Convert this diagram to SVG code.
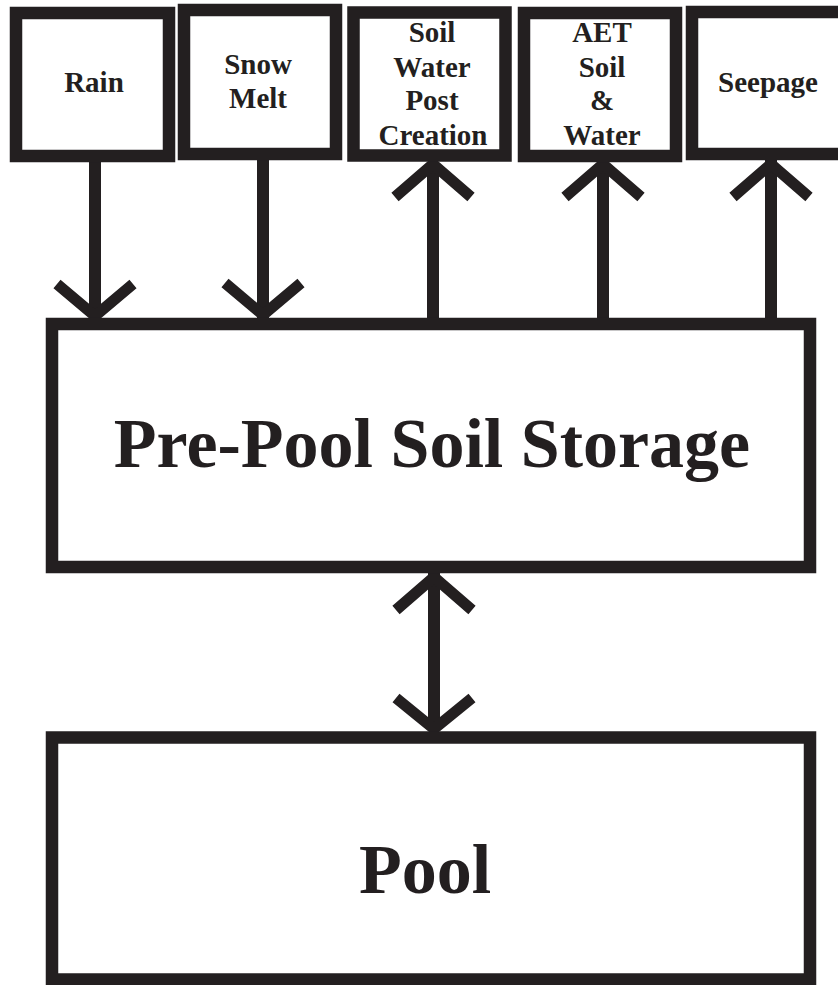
<svg xmlns="http://www.w3.org/2000/svg" width="838" height="985" viewBox="0 0 838 985">
<style>
.box{fill:#fff;stroke:#231f20;stroke-width:12.5}
.lbl{font-family:"Liberation Serif","DejaVu Serif",serif;font-weight:bold;fill:#231f20;text-anchor:middle}
.sm{font-size:29px}
.big{font-size:70px}
.ln{stroke:#231f20;stroke-width:12;fill:none}
.hd{stroke:#231f20;stroke-width:11;fill:none;stroke-linejoin:miter}
</style>
<rect width="838" height="985" fill="#fff"/>
<g id="connectors">
<line class="ln" x1="95" y1="162" x2="95" y2="318"/>
<polyline class="hd" points="57,284 95,316 133,284"/>
<line class="ln" x1="263" y1="160" x2="263" y2="318"/>
<polyline class="hd" points="225,283 263,315 301,283"/>
<line class="ln" x1="433" y1="318" x2="433" y2="162"/>
<polyline class="hd" points="395,197 433,164 471,197"/>
<line class="ln" x1="603" y1="318" x2="603" y2="162"/>
<polyline class="hd" points="565,197 603,164 641,197"/>
<line class="ln" x1="771" y1="318" x2="771" y2="160"/>
<polyline class="hd" points="733,197 771,164 809,197"/>
<line class="ln" x1="434" y1="573" x2="434" y2="731"/>
<polyline class="hd" points="396,610 434,577 472,610"/>
<polyline class="hd" points="396,698 434,729 472,698"/>
</g>
<g id="rain">
<rect class="box" x="16" y="13" width="153" height="143"/>
<text class="lbl sm" x="94" y="92">Rain</text>
</g>
<g id="snowmelt">
<rect class="box" x="184" y="10" width="152" height="144"/>
<text class="lbl sm" x="258" y="74">Snow</text>
<text class="lbl sm" x="258" y="108">Melt</text>
</g>
<g id="soilwater">
<rect class="box" x="353.5" y="12.5" width="152" height="143"/>
<text class="lbl sm" x="432" y="42">Soil</text>
<text class="lbl sm" x="432" y="77">Water</text>
<text class="lbl sm" x="432" y="110">Post</text>
<text class="lbl sm" x="433" y="145">Creation</text>
</g>
<g id="aet">
<rect class="box" x="524" y="13" width="152" height="143"/>
<text class="lbl sm" x="602" y="42">AET</text>
<text class="lbl sm" x="602" y="77">Soil</text>
<text class="lbl sm" x="602" y="110">&amp;</text>
<text class="lbl sm" x="602" y="145">Water</text>
</g>
<g id="seepage">
<rect class="box" x="692" y="12" width="160" height="142"/>
<text class="lbl sm" x="768" y="92">Seepage</text>
</g>
<g id="prepool">
<rect class="box" x="52" y="324" width="758" height="243"/>
<text class="lbl big" x="432" y="467">Pre-Pool Soil Storage</text>
</g>
<g id="pool">
<rect class="box" x="52" y="737.5" width="758" height="242"/>
<text class="lbl big" x="425" y="893">Pool</text>
</g>
</svg>
